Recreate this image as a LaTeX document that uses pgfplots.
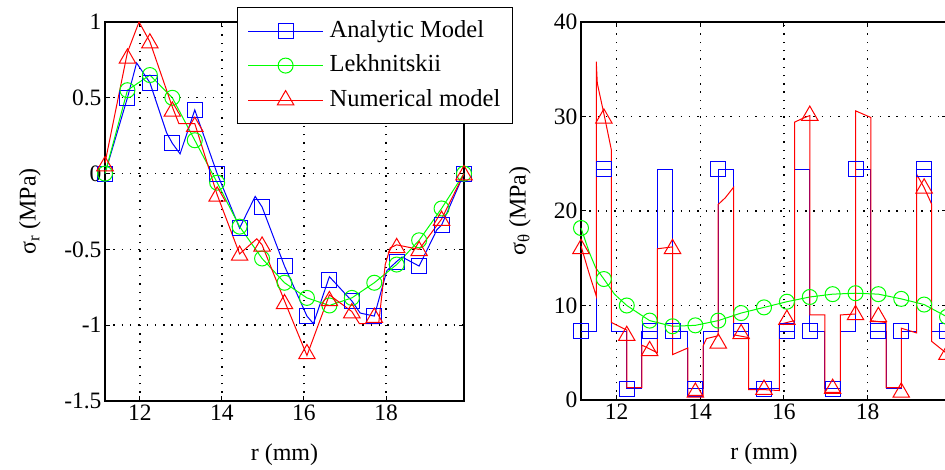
\documentclass[border=0pt]{standalone}
\usepackage{fontspec}
\setmainfont{Liberation Serif}
\usepackage{pgfplots}
\pgfplotsset{compat=1.18}

\definecolor{mblue}{rgb}{0,0,1}
\definecolor{mgreen}{rgb}{0,1,0}
\definecolor{mred}{rgb}{1,0,0}

\pgfplotsset{
  myaxis/.style={
    scale only axis,
    xmin=11.15, xmax=19.9,
    xtick={12,14,16,18},
    xticklabels={12,14,16,18},
    tick align=inside, tick pos=both,
    major tick length=5pt,
    grid=major,
    major grid style={black, line width=1.4pt, dash pattern=on 1.4pt off 6.9pt},
    axis line style={black, line width=1.3pt},
    every tick/.style={black, line width=1pt},
    tick label style={font=\fontsize{23.5}{26}\selectfont},
    label style={font=\fontsize{24}{28}\selectfont},
    /pgf/number format/assume math mode=true,
    clip=false,
    xlabel={r (mm)},
    xlabel style={at={(axis description cs:0.5,-0.142)}, anchor=center},
  },
  bl/.style={mblue, line width=1pt},
  gl/.style={mgreen, line width=1pt},
  rl/.style={mred, line width=1pt},
  bm/.style={mblue, line width=1pt, only marks, mark=square, mark size=7.5pt},
  gm/.style={mgreen, line width=1pt, only marks, mark=o, mark size=7.5pt},
  rm/.style={mred, line width=1pt, only marks, mark=triangle, mark size=9.5pt},
}

\begin{document}
\begin{tikzpicture}
\useasboundingbox (0,0) rectangle (945pt,470pt);

% ---------------- left panel ----------------
\begin{axis}[myaxis,
  at={(105pt,69pt)}, anchor=south west,
  width=359pt, height=379pt,
  ymin=-1.5, ymax=1,
  ytick={-1.5,-1,-0.5,0,0.5,1},
  yticklabels={-1.5,-1,-0.5,0,0.5,1},
  ylabel={σ\textsubscript{r} (MPa)},
  ylabel style={at={(axis description cs:-0.209,0.5)}, anchor=center},
  legend image code/.code={\draw[mark repeat=2,mark phase=2,#1] plot coordinates {(0pt,0pt) (37.5pt,0pt) (75pt,0pt)};},
  legend cell align=left,
  legend style={at={(axis description cs:0.3677,1.0396)}, anchor=north west,
    draw=black, line width=1.2pt, fill=white,
    font=\fontsize{24.5}{28}\selectfont,
    inner xsep=10pt, inner ysep=10.5pt,
    row sep=8.5pt, column sep=4pt,
    nodes={inner sep=2pt, text height=17pt, text depth=5pt}},
]
\addlegendimage{mblue, line width=1pt, mark=square, mark size=7.5pt}
\addlegendentry{Analytic Model}
\addlegendimage{mgreen, line width=1pt, mark=o, mark size=7.5pt}
\addlegendentry{Lekhnitskii}
\addlegendimage{mred, line width=1pt, mark=triangle, mark size=9.5pt}
\addlegendentry{Numerical model\hspace{14pt}}

\addplot[bl, forget plot] coordinates {
(11.150,0.00) (11.697,0.50) (11.92,0.73) (12.244,0.60) (12.65,0.27) (12.791,0.20)
(12.98,0.13) (13.338,0.42) (13.884,0.00) (14.431,-0.36) (14.81,-0.15) (14.978,-0.22)
(15.525,-0.61) (16.072,-0.94) (16.23,-0.99) (16.619,-0.68) (17.166,-0.84) (17.37,-0.92)
(17.713,-0.94) (18.02,-0.64) (18.259,-0.58) (18.39,-0.55) (18.806,-0.61) (19.24,-0.37)
(19.353,-0.34) (19.900,0.00)};
\addplot[bm, forget plot] coordinates {
(11.150,0.00) (11.697,0.50) (12.244,0.60) (12.791,0.20) (13.338,0.42) (13.884,0.00)
(14.431,-0.36) (14.978,-0.22) (15.525,-0.61) (16.072,-0.94) (16.619,-0.70) (17.166,-0.84)
(17.713,-0.94) (18.259,-0.58) (18.806,-0.61) (19.353,-0.34) (19.900,0.00)};

\addplot[gl, forget plot] coordinates {
(11.150,0.00) (11.697,0.55) (12.244,0.65) (12.791,0.50) (13.338,0.22) (13.884,-0.06)
(14.431,-0.35) (14.978,-0.56) (15.525,-0.72) (16.072,-0.82) (16.619,-0.87) (17.166,-0.82)
(17.713,-0.72) (18.259,-0.60) (18.806,-0.44) (19.353,-0.23) (19.900,0.00)};
\addplot[gm, forget plot] coordinates {
(11.150,0.00) (11.697,0.55) (12.244,0.65) (12.791,0.50) (13.338,0.22) (13.884,-0.06)
(14.431,-0.35) (14.978,-0.56) (15.525,-0.72) (16.072,-0.82) (16.619,-0.87) (17.166,-0.82)
(17.713,-0.72) (18.259,-0.60) (18.806,-0.44) (19.353,-0.23) (19.900,0.00)};

\addplot[rl, forget plot] coordinates {
(11.150,0.07) (11.697,0.80) (11.98,1.00) (12.244,0.87) (12.791,0.44) (12.95,0.33)
(13.338,0.33) (13.884,-0.14) (14.431,-0.53) (14.85,-0.43) (14.978,-0.47) (15.525,-0.84)
(16.072,-1.20) (16.619,-0.80) (17.166,-0.91) (17.35,-0.99) (17.82,-0.99) (17.98,-0.60)
(18.10,-0.49) (18.259,-0.47) (18.806,-0.50) (19.353,-0.30) (19.900,0.00)};
\addplot[rm, forget plot] coordinates {
(11.150,0.05) (11.697,0.76) (12.244,0.86) (12.791,0.41) (13.338,0.31) (13.884,-0.15)
(14.431,-0.54) (14.978,-0.48) (15.525,-0.86) (16.072,-1.19) (16.619,-0.84) (17.166,-0.92)
(17.713,-0.95) (18.259,-0.49) (18.806,-0.51) (19.353,-0.31) (19.900,-0.01)};
\end{axis}

% ---------------- right panel ----------------
\begin{axis}[myaxis,
  at={(581pt,70pt)}, anchor=south west,
  width=366pt, height=378pt,
  ymin=0, ymax=40,
  ytick={0,10,20,30,40},
  yticklabels={0,10,20,30,40},
  ylabel={σ\textsubscript{θ} (MPa)},
  ylabel style={at={(axis description cs:-0.167,0.5)}, anchor=center},
]
\addplot[bl] coordinates {
(11.150,7.3) (11.515,7.3) (11.515,24.4) (11.879,24.4) (11.879,7.3) (12.244,7.3)
(12.244,1.2) (12.608,1.2) (12.608,7.3) (12.973,7.3) (12.973,24.4) (13.338,24.4)
(13.338,7.3) (13.702,7.3) (13.702,1.2) (14.067,1.2) (14.067,7.3) (14.431,7.3)
(14.431,24.4) (14.796,24.4) (14.796,7.3) (15.160,7.3) (15.160,1.2) (15.890,1.2)
(15.890,7.3) (16.254,7.3) (16.254,24.4) (16.619,24.4) (16.619,7.3) (16.983,7.3)
(16.983,1.2) (17.348,1.2) (17.348,7.3) (17.713,7.3) (17.713,24.4) (18.077,24.4)
(18.077,7.3) (18.442,7.3) (18.442,1.2) (18.806,1.2) (18.806,7.3) (19.171,7.3)
(19.171,24.4) (19.535,24.4) (19.535,7.3) (19.900,7.3)};
\addplot[bm] coordinates {
(11.150,7.3) (11.697,24.4) (12.244,1.2) (12.791,7.3) (13.338,7.3) (13.884,1.2)
(14.431,24.4) (14.978,7.3) (15.525,1.2) (16.072,7.3) (16.619,7.3) (17.166,1.2)
(17.713,24.4) (18.259,7.3) (18.806,7.3) (19.353,24.4) (19.900,7.3)};

\addplot[gl] coordinates {
(11.150,18.2) (11.35,15.6) (11.50,14.0) (11.697,12.8) (11.95,11.2) (12.244,10.0)
(12.791,8.4) (13.338,7.8) (13.884,7.9) (14.431,8.4) (14.978,9.2) (15.525,9.8)
(16.072,10.4) (16.619,10.9) (17.166,11.2) (17.713,11.3) (18.259,11.2) (18.806,10.7)
(19.353,10.1) (19.900,8.8)};
\addplot[gm] coordinates {
(11.150,18.2) (11.697,12.8) (12.244,10.0) (12.791,8.4) (13.338,7.8) (13.884,7.9)
(14.431,8.4) (14.978,9.2) (15.525,9.8) (16.072,10.4) (16.619,10.9) (17.166,11.2)
(17.713,11.3) (18.259,11.2) (18.806,10.7) (19.353,10.1) (19.900,8.8)};

\addplot[rl] coordinates {
(11.150,16.3) (11.33,13.6) (11.515,11.0) (11.515,35.8) (11.54,33.5) (11.697,30.3)
(11.879,26.4) (11.879,8.2) (12.244,7.4) (12.244,1.3) (12.608,1.3) (12.608,5.8)
(12.973,5.0) (12.973,16.0) (13.338,16.2) (13.338,4.8) (13.702,5.5) (13.702,0.5)
(14.067,0.5) (14.067,5.7) (14.15,6.5) (14.431,6.8) (14.431,20.7) (14.60,21.4)
(14.796,22.5) (14.796,6.9) (15.160,6.6) (15.160,1.1) (15.525,1.1) (15.890,1.0)
(15.890,8.0) (16.254,8.4) (16.254,29.4) (16.45,29.8) (16.619,30.1) (16.619,9.0)
(16.983,9.0) (16.983,0.8) (17.348,0.8) (17.348,9.0) (17.713,9.1) (17.713,30.6)
(18.077,29.9) (18.077,8.4) (18.442,8.2) (18.442,1.3) (18.806,1.3) (18.806,7.6)
(19.171,7.1) (19.171,23.9) (19.35,22.5) (19.535,20.7) (19.535,6.2) (19.900,4.9)};
\addplot[rm] coordinates {
(11.150,16.0) (11.697,29.8) (12.244,6.8) (12.791,5.2) (13.338,16.0) (13.884,0.8)
(14.431,6.0) (14.978,7.0) (15.525,1.1) (16.072,8.5) (16.619,30.1) (17.166,1.2)
(17.713,9.0) (18.259,8.8) (18.806,0.8) (19.353,22.4) (19.900,4.8)};
\end{axis}
\end{tikzpicture}
\end{document}
